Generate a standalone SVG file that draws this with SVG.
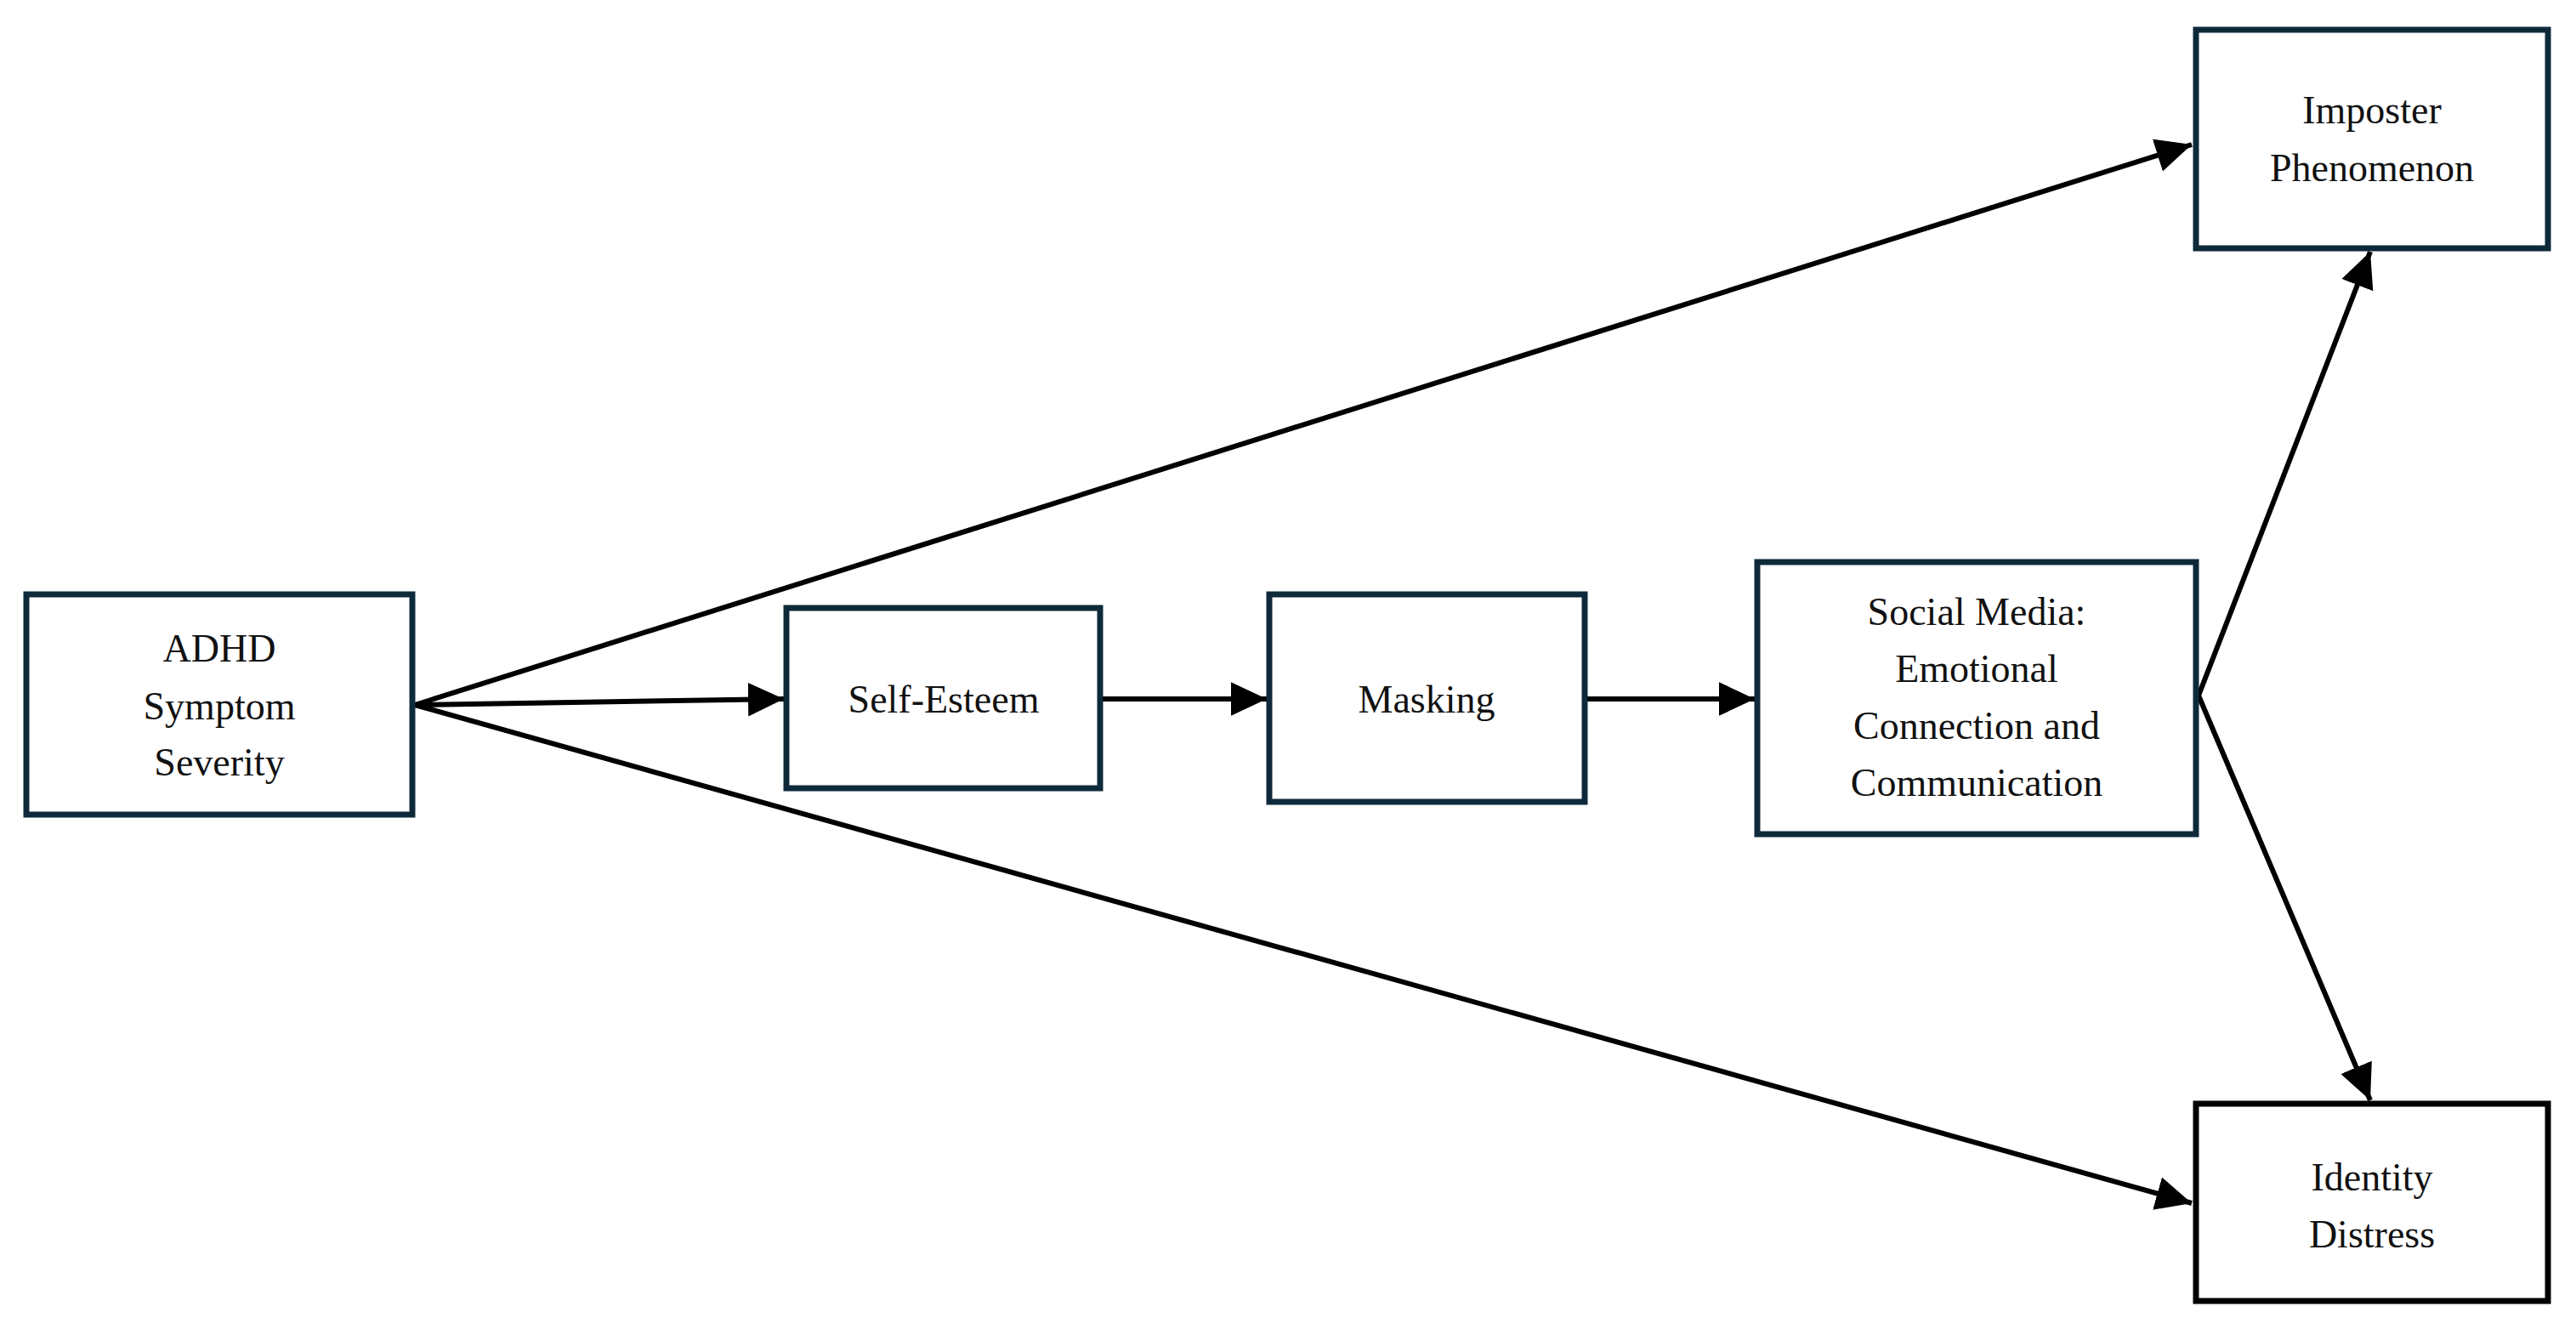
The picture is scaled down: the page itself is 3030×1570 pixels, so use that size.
<svg xmlns="http://www.w3.org/2000/svg" width="3030" height="1570" viewBox="0 0 3030 1570">
<style>
.box{fill:#fff;stroke:#0e2a3a;stroke-width:7}
.t{font-family:"Liberation Serif",serif;font-size:46px;text-anchor:middle;fill:#111}
.c{stroke:#000;stroke-width:6;fill:none;marker-end:url(#a)}
</style>
<defs><marker id="a" markerWidth="8" markerHeight="8" refX="7" refY="4" orient="auto" markerUnits="strokeWidth"><path d="M0,0.7 L7,4 L0,7.3 Z" fill="#000"/></marker></defs>
<rect width="3030" height="1570" fill="#fff"/>
<g id="connectors">
<line class="c" x1="488" y1="829" x2="2578" y2="170"/>
<line class="c" x1="488" y1="829" x2="2578" y2="1415"/>
<line class="c" x1="488" y1="829" x2="922" y2="822"/>
<line class="c" x1="1297" y1="822" x2="1490" y2="822"/>
<line class="c" x1="1867" y1="822" x2="2064" y2="822"/>
<line class="c" x1="2586" y1="818" x2="2788" y2="296"/>
<line class="c" x1="2586" y1="818" x2="2788" y2="1294"/>
</g>
<g id="adhd"><rect class="box" x="31" y="699" width="454" height="259"/>
<text class="t" x="258" y="778">ADHD</text><text class="t" x="258" y="846">Symptom</text><text class="t" x="258" y="912">Severity</text></g>
<g id="selfesteem"><rect class="box" x="925" y="715" width="369" height="212"/>
<text class="t" x="1110" y="838">Self-Esteem</text></g>
<g id="masking"><rect class="box" x="1493" y="699" width="371" height="244"/>
<text class="t" x="1678" y="838">Masking</text></g>
<g id="social"><rect class="box" x="2067" y="661" width="516" height="320"/>
<text class="t" x="2325" y="735">Social Media:</text><text class="t" x="2325" y="802">Emotional</text><text class="t" x="2325" y="869">Connection and</text><text class="t" x="2325" y="936">Communication</text></g>
<g id="imposter"><rect class="box" x="2583" y="35" width="414" height="257"/>
<text class="t" x="2790" y="145">Imposter</text><text class="t" x="2790" y="213">Phenomenon</text></g>
<g id="identity"><rect class="box" x="2583" y="1298" width="414" height="232" style="stroke:#000"/>
<text class="t" x="2790" y="1400">Identity</text><text class="t" x="2790" y="1467">Distress</text></g>
</svg>
